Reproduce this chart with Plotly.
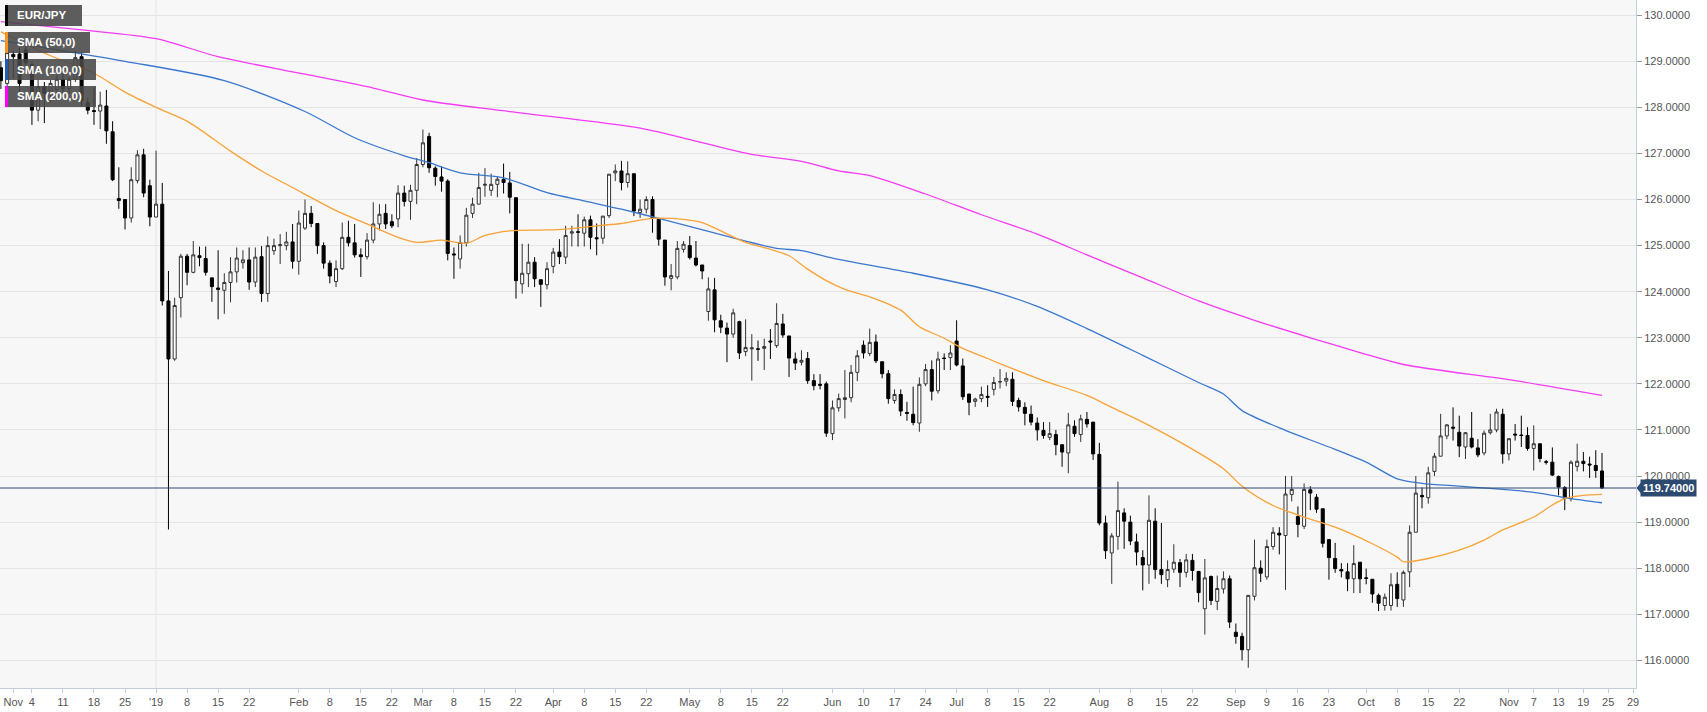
import pandas as pd
import plotly.graph_objects as go

# ---------------- data (EUR/JPY daily) ----------------
dates = pd.bdate_range("2018-11-27", "2019-11-22") + pd.Timedelta(hours=12)

ohlc_rows = [
    (128.86, 129.00, 128.40, 128.58), (128.52, 129.30, 128.45, 129.19), (129.15, 129.23, 128.63, 129.10),
    (129.16, 129.30, 128.30, 128.52), (129.25, 129.35, 128.90, 128.97), (128.93, 129.00, 127.62, 127.94),
    (127.94, 128.60, 127.70, 128.45), (128.45, 128.55, 127.66, 128.30), (128.30, 128.60, 128.10, 128.52),
    (128.39, 128.70, 128.20, 128.61), (128.61, 128.75, 128.30, 128.41), (128.41, 128.70, 128.30, 128.61),
    (128.61, 129.23, 128.55, 129.08), (129.10, 129.20, 128.03, 128.15), (128.10, 128.20, 127.85, 127.94),
    (127.93, 128.44, 127.62, 127.91), (127.92, 128.34, 127.53, 128.05), (128.03, 128.38, 127.21, 127.49),
    (127.47, 127.70, 126.40, 126.43), (126.02, 126.70, 125.80, 125.98), (126.00, 126.00, 125.35, 125.60),
    (125.60, 126.70, 125.50, 126.43), (126.41, 127.07, 126.35, 126.97), (126.97, 127.10, 126.05, 126.14),
    (126.30, 126.43, 125.42, 125.62), (125.62, 127.06, 125.62, 125.90), (125.90, 126.36, 123.70, 123.80),
    (123.80, 124.45, 118.84, 122.54), (122.54, 123.87, 122.50, 123.70), (123.87, 124.82, 123.44, 124.77),
    (124.77, 124.82, 124.14, 124.42), (124.42, 125.10, 124.40, 124.80), (124.78, 124.98, 124.55, 124.74),
    (124.72, 124.98, 124.35, 124.42), (124.30, 124.30, 123.78, 124.11), (124.08, 124.90, 123.40, 124.05),
    (124.03, 124.40, 123.52, 124.20), (124.20, 124.75, 123.77, 124.43), (124.43, 124.96, 124.20, 124.73),
    (124.63, 124.90, 124.50, 124.69), (124.69, 124.96, 124.04, 124.21), (124.21, 124.96, 124.10, 124.75),
    (124.76, 124.99, 123.78, 123.96), (123.96, 125.20, 123.78, 125.00), (124.89, 125.15, 124.80, 125.00),
    (125.00, 125.25, 124.60, 125.02), (125.00, 125.30, 124.90, 125.08), (125.08, 125.47, 124.50, 124.66),
    (124.66, 125.76, 124.37, 125.49), (125.38, 126.00, 125.34, 125.70), (125.70, 125.86, 125.40, 125.48),
    (125.48, 125.48, 124.82, 125.00), (125.00, 125.07, 124.50, 124.62), (124.62, 124.68, 124.18, 124.34),
    (124.22, 124.68, 124.10, 124.50), (124.50, 125.50, 124.47, 125.18), (125.18, 125.54, 124.98, 125.06),
    (125.06, 125.47, 124.74, 124.80), (124.80, 124.94, 124.32, 124.76), (124.76, 125.27, 124.70, 125.12),
    (125.12, 125.94, 125.05, 125.47), (125.47, 125.90, 125.33, 125.68), (125.70, 125.90, 125.36, 125.47),
    (125.52, 125.68, 125.38, 125.43), (125.58, 126.31, 125.40, 126.14), (126.14, 126.30, 125.85, 125.96),
    (125.96, 126.32, 125.56, 126.20), (126.20, 126.90, 125.90, 126.76), (126.76, 127.52, 126.70, 127.23),
    (127.37, 127.45, 126.58, 126.69), (126.68, 126.72, 126.30, 126.50), (126.49, 126.72, 126.17, 126.40),
    (126.40, 126.44, 124.68, 124.83), (124.82, 124.96, 124.28, 124.80), (124.71, 125.22, 124.50, 125.07),
    (125.06, 125.82, 124.98, 125.66), (125.70, 126.04, 125.60, 125.90), (125.90, 126.58, 125.90, 126.26),
    (126.31, 126.68, 126.06, 126.33), (126.20, 126.56, 126.08, 126.33), (126.33, 126.51, 126.05, 126.44),
    (126.44, 126.78, 126.13, 126.37), (126.36, 126.60, 125.70, 126.05), (126.04, 126.04, 123.85, 124.24),
    (124.17, 125.04, 123.96, 124.40), (124.39, 125.04, 124.10, 124.64), (124.64, 124.75, 124.10, 124.28),
    (124.26, 124.26, 123.67, 124.16), (124.15, 124.64, 124.05, 124.50), (124.55, 124.95, 124.40, 124.86),
    (124.86, 125.14, 124.60, 124.76), (124.75, 125.43, 124.60, 125.22), (125.27, 125.43, 124.98, 125.30),
    (125.30, 125.68, 124.98, 125.29), (125.27, 125.63, 124.98, 125.56), (125.56, 125.65, 124.92, 125.18),
    (125.17, 125.48, 124.79, 125.15), (125.16, 125.64, 125.04, 125.64), (125.65, 126.55, 125.60, 126.55),
    (126.58, 126.76, 126.40, 126.62), (126.62, 126.84, 126.20, 126.37), (126.37, 126.83, 126.26, 126.56),
    (126.56, 126.56, 125.64, 125.75), (125.72, 126.00, 125.60, 125.79), (125.79, 126.07, 125.70, 126.00),
    (126.00, 126.07, 125.28, 125.59), (125.57, 125.57, 125.00, 125.14), (125.12, 125.12, 124.13, 124.32),
    (124.29, 124.60, 124.03, 124.35), (124.32, 125.10, 124.27, 124.94), (124.92, 125.10, 124.85, 125.03),
    (125.00, 125.21, 124.70, 124.74), (124.73, 125.10, 124.55, 124.58), (124.58, 124.58, 124.27, 124.45),
    (123.57, 124.31, 123.37, 124.06), (124.04, 124.30, 123.12, 123.39), (123.37, 123.50, 123.10, 123.23),
    (123.21, 123.33, 122.47, 123.08), (123.08, 123.63, 123.00, 123.54), (123.35, 123.37, 122.54, 122.67),
    (122.70, 123.40, 122.60, 122.79), (122.76, 123.08, 122.07, 122.78), (122.76, 122.94, 122.50, 122.75),
    (122.77, 122.98, 122.30, 122.81), (122.93, 123.19, 122.54, 122.91), (122.83, 123.75, 122.78, 123.31),
    (123.30, 123.52, 123.00, 123.06), (123.04, 123.04, 122.15, 122.56), (122.54, 122.68, 122.30, 122.45),
    (122.47, 122.73, 122.40, 122.51), (122.55, 122.69, 122.00, 122.07), (122.07, 122.21, 121.86, 121.96),
    (121.99, 122.21, 121.88, 121.97), (122.00, 122.05, 120.85, 120.93), (120.92, 121.64, 120.78, 121.48),
    (121.48, 121.79, 121.40, 121.68), (121.66, 122.30, 121.25, 121.70), (121.70, 122.41, 121.60, 122.25),
    (122.25, 122.73, 122.06, 122.61), (122.84, 122.94, 122.55, 122.67), (122.66, 123.20, 122.60, 122.90),
    (122.91, 123.07, 122.45, 122.50), (122.48, 122.48, 122.12, 122.22), (122.22, 122.30, 121.57, 121.68),
    (121.64, 121.88, 121.57, 121.77), (121.77, 121.88, 121.30, 121.41), (121.38, 121.61, 121.20, 121.36),
    (121.34, 121.94, 121.10, 121.16), (121.15, 122.14, 120.96, 121.99), (122.00, 122.43, 121.95, 122.31),
    (122.31, 122.51, 121.64, 121.84), (121.85, 122.70, 121.79, 122.54), (122.56, 122.66, 122.30, 122.55),
    (122.57, 122.84, 122.30, 122.67), (122.93, 123.38, 122.38, 122.41), (122.39, 122.55, 121.65, 121.72),
    (121.78, 121.78, 121.32, 121.60), (121.62, 121.70, 121.50, 121.67), (121.68, 121.94, 121.60, 121.77),
    (121.73, 121.97, 121.50, 121.71), (121.88, 122.15, 121.75, 122.03), (122.04, 122.32, 121.90, 122.05),
    (122.06, 122.25, 121.95, 122.12), (122.10, 122.25, 121.52, 121.62), (121.64, 121.70, 121.40, 121.50),
    (121.49, 121.60, 121.10, 121.36), (121.34, 121.53, 121.10, 121.17), (121.15, 121.27, 120.77, 121.00),
    (120.99, 121.17, 120.81, 120.88), (120.84, 121.17, 120.78, 120.92), (120.90, 121.00, 120.45, 120.68),
    (120.68, 120.68, 120.20, 120.52), (120.50, 121.37, 120.06, 121.11), (121.08, 121.21, 120.85, 120.92),
    (120.90, 121.33, 120.74, 121.24), (121.23, 121.39, 121.05, 121.13), (121.17, 121.17, 120.35, 120.48),
    (120.47, 120.72, 118.93, 118.98), (118.98, 119.14, 118.20, 118.38), (118.33, 118.76, 117.66, 118.70),
    (118.69, 119.88, 118.40, 119.25), (119.20, 119.30, 118.42, 119.02), (119.00, 119.14, 118.50, 118.59),
    (118.57, 118.75, 118.06, 118.35), (118.23, 118.39, 117.52, 118.07), (118.07, 119.58, 117.66, 119.04),
    (119.02, 119.30, 117.77, 117.97), (117.97, 118.98, 117.66, 117.86), (117.75, 118.17, 117.59, 117.97),
    (117.98, 118.52, 117.90, 118.13), (118.12, 118.20, 117.59, 117.91), (117.91, 118.31, 117.80, 118.18),
    (118.17, 118.31, 117.73, 117.95), (117.93, 117.93, 117.26, 117.47), (117.12, 118.20, 116.56, 117.79),
    (117.82, 117.84, 117.20, 117.30), (117.28, 117.84, 117.09, 117.56), (117.55, 117.93, 117.45, 117.77),
    (117.77, 117.84, 116.70, 116.83), (116.61, 116.80, 116.36, 116.52), (116.52, 116.60, 116.00, 116.23),
    (116.23, 117.41, 115.84, 117.41), (117.39, 118.62, 117.30, 118.01), (118.00, 118.17, 117.70, 117.89),
    (117.81, 118.62, 117.75, 118.47), (118.47, 118.89, 118.40, 118.78), (118.76, 118.89, 118.30, 118.72),
    (118.71, 120.00, 117.53, 119.61), (119.60, 120.00, 119.45, 119.71), (119.12, 119.34, 118.67, 118.95),
    (118.91, 119.84, 118.85, 119.71), (119.70, 119.78, 119.26, 119.63), (119.54, 119.61, 119.20, 119.28),
    (119.29, 119.29, 118.45, 118.54), (118.62, 118.62, 117.75, 118.23), (118.21, 118.55, 117.90, 117.99),
    (117.97, 118.11, 117.80, 117.94), (117.92, 118.11, 117.50, 117.77), (117.77, 118.50, 117.46, 118.10),
    (118.13, 118.13, 117.46, 117.77), (117.79, 117.99, 117.65, 117.78), (117.76, 117.76, 117.25, 117.44),
    (117.41, 117.45, 117.07, 117.24), (117.19, 117.45, 117.08, 117.37), (117.19, 117.89, 117.08, 117.64),
    (117.65, 117.91, 117.16, 117.34), (117.31, 117.95, 117.16, 117.91), (117.92, 118.93, 117.59, 118.78),
    (118.78, 120.00, 118.78, 119.63), (119.58, 119.75, 119.30, 119.55), (119.53, 120.20, 119.40, 120.07),
    (120.10, 120.50, 120.00, 120.43), (120.43, 121.35, 120.43, 120.87), (120.87, 121.13, 120.80, 121.11),
    (121.06, 121.49, 120.77, 121.04), (120.95, 121.31, 120.41, 120.65), (120.63, 120.95, 120.37, 120.94),
    (120.82, 121.39, 120.60, 120.63), (120.61, 120.80, 120.41, 120.46), (120.50, 120.99, 120.45, 120.93),
    (120.94, 121.35, 120.90, 121.00), (121.00, 121.46, 120.95, 121.39), (121.34, 121.46, 120.27, 120.48),
    (120.48, 120.81, 120.34, 120.81), (120.91, 121.13, 120.77, 120.89), (120.89, 121.31, 120.63, 120.88),
    (120.88, 121.06, 120.55, 120.60), (120.60, 121.10, 120.12, 120.70), (120.70, 120.70, 120.30, 120.38),
    (120.31, 120.35, 120.25, 120.30), (120.30, 120.62, 120.00, 120.02), (119.99, 120.01, 119.58, 119.76),
    (119.75, 119.78, 119.26, 119.51), (119.51, 120.34, 119.45, 120.30), (120.21, 120.70, 120.10, 120.32),
    (120.32, 120.52, 120.10, 120.27), (120.26, 120.42, 119.96, 120.24), (120.23, 120.56, 119.96, 120.12),
    (120.11, 120.50, 119.72, 119.74),
]
opens = [r[0] for r in ohlc_rows]
highs = [r[1] for r in ohlc_rows]
lows = [r[2] for r in ohlc_rows]
closes = [r[3] for r in ohlc_rows]

sma50_dates = ["2018-11-27", "2018-12-07", "2018-12-18", "2018-12-25", "2019-01-01", "2019-01-08",
               "2019-01-17", "2019-01-24", "2019-01-31", "2019-02-06", "2019-02-11", "2019-02-18",
               "2019-02-25", "2019-02-28", "2019-03-06", "2019-03-12", "2019-03-15", "2019-03-21",
               "2019-03-29", "2019-04-03", "2019-04-10", "2019-04-16", "2019-04-23", "2019-04-30",
               "2019-05-03", "2019-05-08", "2019-05-14", "2019-05-20", "2019-05-23", "2019-05-28",
               "2019-05-31", "2019-06-05", "2019-06-11", "2019-06-18", "2019-06-21", "2019-06-27",
               "2019-07-02", "2019-07-08", "2019-07-12", "2019-07-19", "2019-07-30", "2019-08-05",
               "2019-08-13", "2019-08-21", "2019-08-29", "2019-09-03", "2019-09-10", "2019-09-17",
               "2019-09-24", "2019-10-02", "2019-10-08", "2019-10-09", "2019-10-15", "2019-10-22",
               "2019-10-28", "2019-10-31", "2019-11-07", "2019-11-12", "2019-11-14", "2019-11-19",
               "2019-11-22"]
sma50_values = [129.64, 129.12, 128.74, 128.33, 128.00, 127.70, 127.05, 126.62, 126.26, 125.97,
                125.76, 125.47, 125.18, 125.07, 125.12, 125.05, 125.22, 125.32, 125.34, 125.36,
                125.43, 125.48, 125.59, 125.57, 125.50, 125.32, 125.07, 124.92, 124.78, 124.49,
                124.24, 124.05, 123.89, 123.60, 123.24, 122.99, 122.77, 122.55, 122.33, 122.07,
                121.75, 121.49, 121.10, 120.66, 120.16, 119.78, 119.36, 119.11, 118.89, 118.53,
                118.24, 118.14, 118.21, 118.39, 118.61, 118.83, 119.11, 119.37, 119.51, 119.58,
                119.60]

sma100_dates = ["2018-11-27", "2018-12-25", "2019-01-16", "2019-02-04", "2019-02-14", "2019-02-26",
                "2019-03-04", "2019-03-11", "2019-03-20", "2019-03-29", "2019-04-08", "2019-04-16",
                "2019-04-24", "2019-05-14", "2019-05-21", "2019-05-27", "2019-06-04", "2019-06-20",
                "2019-07-08", "2019-07-18", "2019-07-30", "2019-08-12", "2019-08-23", "2019-08-29",
                "2019-09-03", "2019-09-12", "2019-09-23", "2019-10-01", "2019-10-08", "2019-10-14",
                "2019-10-22", "2019-10-29", "2019-11-06", "2019-11-12", "2019-11-15", "2019-11-22"]
sma100_values = [129.45, 129.00, 128.58, 127.91, 127.34, 126.95, 126.80, 126.58, 126.47, 126.15,
                 125.97, 125.79, 125.59, 125.10, 124.94, 124.89, 124.70, 124.40, 124.04, 123.68,
                 123.20, 122.62, 122.03, 121.78, 121.42, 120.99, 120.63, 120.30, 119.94, 119.84,
                 119.78, 119.73, 119.66, 119.58, 119.51, 119.42]

sma200_dates = ["2018-11-27", "2018-12-14", "2019-01-01", "2019-01-15", "2019-02-04", "2019-02-19",
                "2019-03-01", "2019-03-21", "2019-04-19", "2019-05-02", "2019-05-15", "2019-05-27",
                "2019-06-04", "2019-06-11", "2019-06-24", "2019-07-05", "2019-07-18", "2019-07-30",
                "2019-08-12", "2019-08-23", "2019-09-05", "2019-09-18", "2019-09-30", "2019-10-09",
                "2019-11-04", "2019-11-22"]
sma200_values = [129.86, 129.68, 129.49, 129.10, 128.72, 128.42, 128.16, 127.91, 127.55, 127.27,
                 126.98, 126.83, 126.62, 126.52, 126.12, 125.67, 125.25, 124.80, 124.30, 123.80,
                 123.38, 123.00, 122.68, 122.42, 122.07, 121.75]

tick_dates = ["2018-11-29", "2018-12-04", "2018-12-11", "2018-12-18", "2018-12-25", "2019-01-01",
              "2019-01-08", "2019-01-15", "2019-01-22", "2019-02-01", "2019-02-08", "2019-02-15",
              "2019-02-22", "2019-03-01", "2019-03-08", "2019-03-15", "2019-03-22", "2019-04-01",
              "2019-04-08", "2019-04-15", "2019-04-22", "2019-05-01", "2019-05-08", "2019-05-15",
              "2019-05-22", "2019-06-03", "2019-06-10", "2019-06-17", "2019-06-24", "2019-07-01",
              "2019-07-08", "2019-07-15", "2019-07-22", "2019-08-01", "2019-08-08", "2019-08-15",
              "2019-08-22", "2019-09-02", "2019-09-09", "2019-09-16", "2019-09-23", "2019-10-01",
              "2019-10-08", "2019-10-15", "2019-10-22", "2019-11-01", "2019-11-07", "2019-11-13",
              "2019-11-19", "2019-11-25", "2019-11-29"]
tick_labels = ["Nov", "4", "11", "18", "25", "'19", "8", "15", "22", "Feb", "8", "15", "22",
               "Mar", "8", "15", "22", "Apr", "8", "15", "22", "May", "8", "15", "22",
               "Jun", "10", "17", "24", "Jul", "8", "15", "22", "Aug", "8", "15", "22",
               "Sep", "9", "16", "23", "Oct", "8", "15", "22", "Nov", "7", "13", "19", "25", "29"]

legend_labels = ["EUR/JPY", "SMA (50,0)", "SMA (100,0)", "SMA (200,0)"]
legend_colors = ["#000000", "#f7931e", "#1f5bb5", "#ff00ff"]
line_colors = {"sma50": "#f9a237", "sma100": "#3a78cf", "sma200": "#f53af5"}

# ---------------- figure ----------------
half_day = pd.Timedelta(hours=12)
W, H = 1707, 712
ML, MR, MT, MB = 0, 71, 0, 24
PW, PH = W - ML - MR, H - MT - MB
PRICE_BG = "#2c4a70"

fig = go.Figure()
fig.add_trace(go.Candlestick(
    x=dates, open=opens, high=highs, low=lows, close=closes,
    increasing=dict(fillcolor="#ffffff", line=dict(color="#333333", width=1)),
    decreasing=dict(fillcolor="#000000", line=dict(color="#000000", width=1)),
    whiskerwidth=0, showlegend=False, hoverinfo="skip"))

for key, dts, vals in [("sma200", sma200_dates, sma200_values),
                       ("sma100", sma100_dates, sma100_values),
                       ("sma50", sma50_dates, sma50_values)]:
    fig.add_trace(go.Scatter(
        x=pd.to_datetime(dts) + half_day, y=vals, mode="lines",
        line=dict(color=line_colors[key], width=1.3, shape="spline", smoothing=0.8),
        showlegend=False, hoverinfo="skip"))

last = closes[-1]
shapes = [
    dict(type="line", xref="x", yref="paper",
         x0=pd.Timestamp("2019-01-01") + half_day, x1=pd.Timestamp("2019-01-01") + half_day,
         y0=0, y1=1, line=dict(color="#e4e4e4", width=1), layer="below"),
    dict(type="line", xref="paper", yref="y", x0=0, x1=1, y0=last, y1=last,
         line=dict(color=PRICE_BG, width=1)),
]
annotations = []

# legend boxes (top-left), pixel rows: (top, bottom, right)
box_rows = [(5, 26, 82), (32, 53, 90), (59, 80, 96), (86, 107, 96)]
for (y0, y1, x1), lab, col in zip(box_rows, legend_labels, legend_colors):
    shapes.append(dict(type="rect", xref="paper", yref="paper",
                       x0=5 / PW, x1=x1 / PW, y0=1 - y1 / PH, y1=1 - y0 / PH,
                       fillcolor="rgba(72,72,72,0.88)", line=dict(width=0)))
    shapes.append(dict(type="rect", xref="paper", yref="paper",
                       x0=5 / PW, x1=8 / PW, y0=1 - y1 / PH, y1=1 - y0 / PH,
                       fillcolor=col, line=dict(width=0)))
    annotations.append(dict(text=lab, xref="paper", yref="paper", x=15 / PW,
                            y=1 - (y0 + y1) / 2 / PH, xanchor="left", yanchor="middle",
                            showarrow=False,
                            font=dict(family="Liberation Sans, Arial, sans-serif",
                                      size=11.5, color="#ffffff", weight="bold")))

# last price label
annotations.append(dict(text="<b>%.5f</b>" % last, xref="paper", yref="y", x=1, y=last,
                        xanchor="left", yanchor="middle", xshift=4, showarrow=False,
                        bgcolor=PRICE_BG, borderpad=2,
                        font=dict(family="Liberation Sans, Arial, sans-serif",
                                  size=11, color="#ffffff")))
tri_h = 0.12
shapes.append(dict(type="path", xref="paper", yref="y",
                   path="M %f,%f L %f,%f L %f,%f Z" % (1 + 0.5 / PW, last, 1 + 5 / PW, last + tri_h,
                                                       1 + 5 / PW, last - tri_h),
                   fillcolor=PRICE_BG, line=dict(width=0)))

fig.update_layout(
    width=W, height=H, margin=dict(l=ML, r=MR, t=MT, b=MB),
    paper_bgcolor="#ffffff", plot_bgcolor="#f7f7f7", showlegend=False,
    hovermode=False, shapes=shapes, annotations=annotations,
    xaxis=dict(type="date", rangebreaks=[dict(bounds=["sat", "mon"])],
               range=[pd.Timestamp("2018-11-27 08:30"), pd.Timestamp("2019-11-29 23:30")],
               rangeslider=dict(visible=False), showgrid=False, zeroline=False,
               tickmode="array", tickvals=pd.to_datetime(tick_dates) + half_day,
               ticktext=tick_labels, ticks="outside", ticklen=4, tickcolor="#c5cddb",
               ticklabeloverflow="allow",
               showline=True, linecolor="#c5cddb", linewidth=1,
               tickfont=dict(family="Liberation Sans Narrow, Arial Narrow, Liberation Sans, Arial",
                             size=11, color="#555555")),
    yaxis=dict(side="right", range=[115.40, 130.33], tick0=116, dtick=1, tickformat=".4f",
               showgrid=True, gridcolor="#e4e4e4", gridwidth=1, zeroline=False,
               ticks="outside", ticklen=5, tickcolor="#9a9a9a",
               showline=True, linecolor="#c5cddb", linewidth=1,
               tickfont=dict(family="Liberation Sans, Arial, sans-serif", size=11, color="#555555")),
)

fig.write_html("out.html", config={"displayModeBar": False})
